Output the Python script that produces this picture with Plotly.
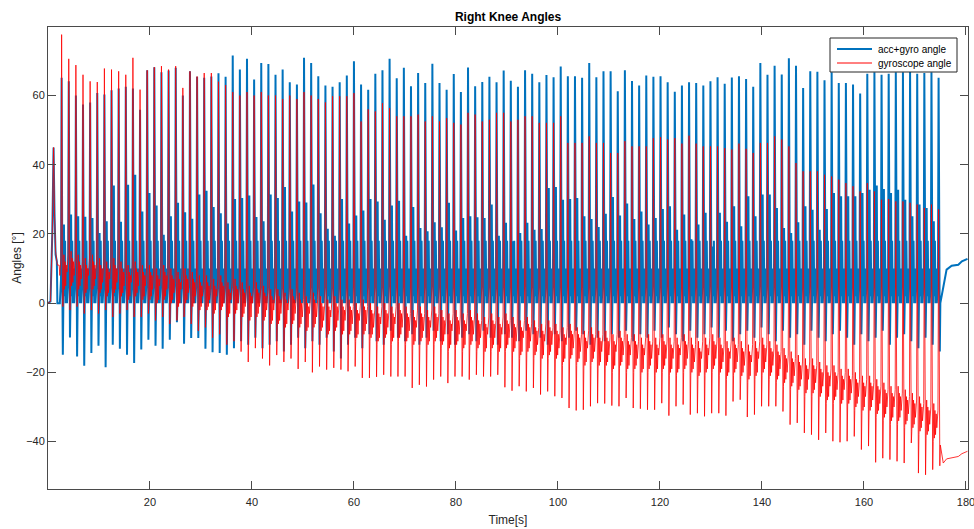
import numpy as np
import plotly.graph_objects as go

# ---------------- data ----------------
first_peak_time = 2.68      # s, time of first big stride peak
stride_period = 1.398       # s, spacing of stride peaks

# start-up segment (before first stride)
init_t = [0.0, 0.5, 0.85, 1.1, 1.3, 1.5, 1.75, 1.85, 2.2]
init_blue = [0, 0.5, 20, 45, 25, 14, 12, 0, 0]
init_red = [0, 0.5, 20, 45, 25, 15, 12, 11, 11]

# per-stride values, acc+gyro angle
blue_peak = [65.1, 64.1, 60.0, 57.4, 58.0, 60.7, 60.3, 61.5, 62.0, 62.5, 62.0, 55.9, 67.3, 68.2, 66.7, 67.2, 68.0, 60.0, 67.0, 65.4,
             65.1, 65.5, 66.4, 65.4, 71.6, 67.5, 70.6, 64.6, 69.4, 69.1, 66.0, 67.5, 63.8, 63.2, 70.9, 69.4, 65.6, 62.9,
             62.5, 63.8, 65.8, 69.9, 63.2, 61.7, 66.3, 67.3, 70.6, 65.0, 68.0, 62.7, 66.5, 63.6, 69.2, 63.6, 61.7, 66.2, 61.0, 68.1,
             62.7, 63.9, 65.4, 63.8, 67.2, 64.3, 62.5, 67.3, 66.3, 63.8, 65.9, 65.3, 68.4, 65.6, 65.6, 65.1, 69.4, 65.3, 67.0, 67.0,
             61.2, 67.3, 64.2, 62.9, 65.8,
             65.4, 65.6, 63.8, 61.1, 62.9, 63.8, 63.6, 62.9, 64.1, 65.3, 63.4, 65.2, 65.6, 64.8, 62.5, 69.4, 66.0, 68.6, 66.1, 70.8,
             68.6, 62.2, 67.0, 66.9, 64.4, 66.7, 63.6, 63.6, 63.2, 60.6, 66.3, 66.7, 66.0, 66.3, 66.7, 66.7, 67.0, 66.3, 66.5, 66.7, 65.1]
blue_sec = [22.7, 25.6, 25.1, 25.0, 24.6, 20.3, 23.7, 34.0, 23.5, 34.2, 37.1, 26.5, 31.8, 28.2, 19.8, 25.1, 29.0, 26.3, 24.4, 31.4,
            32.5, 27.8, 26.0, 23.0, 30.1, 30.4, 31.1, 24.9, 23.7, 31.4, 30.4, 33.6, 26.5, 29.4, 29.1, 34.3, 26.0, 21.5,
            19.5, 30.1, 23.0, 25.3, 26.8, 30.1, 29.4, 24.1, 28.2, 29.6, 19.5, 27.8, 21.7, 20.8, 23.4, 21.9, 29.0, 21.0, 24.6, 25.1,
            24.8, 24.6, 28.5, 19.5, 23.2, 17.9, 20.3, 23.2, 21.2, 21.4, 33.3, 33.6, 29.9, 30.1, 30.4, 25.1, 24.3, 22.0, 25.8, 30.7,
            25.3, 28.8, 24.3, 26.5, 22.7,
            24.6, 27.2, 28.0, 21.2, 25.6, 18.5, 22.7, 26.1, 16.4, 26.1, 23.5, 28.0, 22.2, 30.9, 25.1, 31.4, 31.4, 27.5, 21.7, 20.3,
            23.4, 28.0, 27.0, 21.2, 27.2, 31.8, 30.9, 30.9, 30.9, 31.8, 32.8, 34.0, 33.0, 31.8, 32.8, 29.9, 25.1, 28.5, 27.5, 23.7, 29.4]
blue_low = [-14.9, -9.9, -15.4, -18.1, -14.4, -12.3, -18.5, -12.0, -13.2, -14.9, -17.3, -13.4, -10.6, -12.3, -13.2, -10.6, -5.5,
            -11.7, -10.1, -10.1, -13.2, -14.2, -14.4, -14.9, -13.0,
            -11, -12, -10, -13, -12, -11, -14, -12, -10, -13, -11, -12, -10,
            -14, -16, -12, -10, -13, -9, -11, -12, -8, -10, -11, -9, -12, -10, -8, -11, -9, -12, -10, -9, -11, -8, -10, -12,
            -9, -10, -11, -8, -9, -10, -12, -9, -11, -10, -8, -9, -12, -10, -11, -9, -10, -8, -11, -9, -10,
            -8, -10, -7, -9, -11, -8, -10, -9, -7, -10, -8, -11, -9, -8, -10, -7, -9, -11, -8, -10, -9, -12, -8, -10, -11,
            -9, -8, -10, -12, -9, -11, -10, -8, -12, -10, -9, -11, -13, -10, -12, -14]

# per-stride values, gyroscope angle
red_peak = [77.6, 70.6, 68.8, 66.0, 64.1, 63.9, 67.8, 67.5, 67.0, 66.0, 70.9, 61.7, 67.3, 68.2, 68.5, 67.5, 68.5, 62.2, 67.0, 65.5,
            66.5, 66.5, 64.0, 63.0, 61.0, 60.0, 61.0, 60.0, 61.0, 60.0, 60.0, 59.0, 60.0, 59.0, 61.0, 60.0, 59.0, 58.0,
            59.8, 59.8, 59.8, 60.7, 52.5, 56.0, 55.4, 57.8, 56.4, 54.0, 54.0, 54.0, 54.5, 52.5, 54.0, 52.5, 53.5, 52.1, 51.6, 55.0,
            54.5, 52.5, 53.0, 55.0, 55.0, 52.5, 53.0, 54.0, 54.0, 52.1, 52.1, 52.1, 54.0, 46.3, 46.3, 46.3, 48.2, 46.3, 46.3, 43.4,
            43.4, 46.8, 45.3, 45.3, 45.3,
            47.7, 48.0, 47.3, 47.7, 46.1, 48.4, 46.1, 45.3, 45.3, 45.3, 44.8, 44.4, 46.1, 44.6, 43.4, 46.3, 46.3, 48.2, 47.3, 45.3,
            40.5, 38.1, 38.1, 38.1, 37.1, 36.6, 35.7, 34.7, 33.8, 32.3, 34.7, 32.3, 29.9, 30.1, 29.4, 29.4, 29.0, 28.5, 27.5, 28.5, 27.1]
red_low = [-1, -2, -1, -3, -2, -3, -2, -4, -3, -2, -4,
           -4, -3, -5, -4, -6, -5, -4, -6,
           -8, -7, -10, -9, -12, -11, -14,
           -17, -13, -16, -18, -15, -17, -16, -19, -17, -20,
           -18.3, -19.2, -18.7, -19.2, -19.7, -18.3, -21.6, -21.6, -21.3, -20.7, -21.2, -21.2, -21.2, -24.5, -23.6, -24.1,
           -22.1, -21.2, -23.1, -21.2, -21.2, -22.1, -20.7, -21.2, -21.2, -20.7, -24.3, -25.3, -24.0, -25.5, -24.5, -26.4,
           -25.5, -26.9, -27.4, -30.3, -31.0, -30.8, -29.8, -28.9, -29.0, -29.6, -29.8, -27.4, -30.3, -30.5,
           -30.8, -30.8, -28.9, -32.5, -29.8, -29.3, -32.2, -31.8, -32.7, -31.8, -31.8, -32.5, -28.4, -27.9, -32.9, -32.2,
           -29.8, -29.8, -29.8, -31.3, -35.1, -34.6, -37.5, -38.0, -39.5, -37.5, -39.9, -40.2, -39.9, -38.5, -42.3, -41.3,
           -46.0, -44.8, -45.2, -45.7, -46.2, -40.4, -49.1, -49.6, -48.1,
           -47.0]
red_mid = [8, 9, 8, 7, 8, 7, 6, 7, 6, 5, 6, 5, 5, 4, 5, 4, 3, 4, 3, 2,
           2, 1, 2, 0, 1, 0, -1, 0, -1, -2, -2, -3, -2, -3, -4, -3, -4, -5, -4, -5,
           -5, -6, -5, -6, -7, -6, -7, -6, -7, -8, -7, -8, -7, -8, -9, -8, -9, -8, -9, -10,
           -9, -10, -9, -10, -11, -10, -11, -12, -11, -12, -13, -12, -13, -14, -13, -14, -14, -15, -14, -15,
           -15, -16, -15, -16, -15, -16, -16, -15, -16, -17, -16, -15, -16, -17, -16, -17, -18, -17, -16, -17,
           -18, -19, -20, -21, -22, -22, -23, -24, -24, -25, -25, -26, -27, -27, -28, -29, -30, -30, -31, -32,
           -33, -34, -35, -36]

# tail after walking stops
end_t = [175.55, 176.2, 177.2, 178.5, 179.2, 180.3]
end_blue = [4.9, 9.7, 10.8, 11.1, 12.1, 12.8]
end_red = [-46.2, -45.0, -44.7, -44.3, -43.5, -42.8]

x_ticks = [20, 40, 60, 80, 100, 120, 140, 160, 180]
y_ticks = [-40, -20, 0, 20, 40, 60]
series_names = ["acc+gyro angle", "gyroscope angle"]
series_colors = ["#0072BD", "#FF0000"]

# ---------------- build the traces ----------------
n = min(len(blue_peak), len(blue_sec), len(blue_low), len(red_peak), len(red_low), len(red_mid))

# stride shape (offset in seconds from peak)
offs = [-0.35, -0.12, 0.0, 0.14, 0.24, 0.34, 0.46, 0.56, 0.68, 0.80, 0.92]

bx, by, rx, ry = list(init_t), list(init_blue), list(init_t), list(init_red)
for k in range(n):
    tp = first_peak_time + k * stride_period
    bvals = [0, 7, blue_peak[k], 7, blue_low[k], 0, blue_sec[k], 2, 18, 0, 10]
    m = red_mid[k]
    rvals = [m, m + 5, red_peak[k], m + 3, red_low[k], m - 5, m + 6, m - 4, m + 4, m - 3, m + 3]
    last = (k == n - 1)
    for o, bv, rv in zip(offs, bvals, rvals):
        if last and o > 0.34:
            break
        bx.append(tp + o); by.append(bv)
        rx.append(tp + o); ry.append(rv)
bx += end_t; by += end_blue
rx += end_t; ry += end_red

fig = go.Figure()
fig.add_trace(go.Scatter(x=bx, y=by, mode="lines", name=series_names[0],
                         line=dict(color=series_colors[0], width=2), showlegend=False))
fig.add_trace(go.Scatter(x=rx, y=ry, mode="lines", name=series_names[1],
                         line=dict(color=series_colors[1], width=0.8), showlegend=False))

FONT = "Liberation Sans, Arial"
axis_common = dict(showline=True, linecolor="#4a4a4a", linewidth=1, mirror="ticks",
                   ticks="inside", ticklen=8, tickcolor="#4a4a4a", showgrid=False, zeroline=False,
                   automargin=False,
                   tickfont=dict(family=FONT, size=11, color="#262626"))

# plot area geometry (px) for the hand-drawn MATLAB-style legend
L, R, T, B, W, H = 48, 6, 27, 40, 974, 529
pw, ph = W - L - R, H - T - B
def px_x(p): return (p - L) / pw
def px_y(p): return (H - B - p) / ph

shapes = [dict(type="rect", xref="paper", yref="paper",
               x0=px_x(830), x1=px_x(957), y0=px_y(72), y1=px_y(38),
               line=dict(color="#262626", width=1), fillcolor="white", layer="above")]
annotations = []
for i, (nm, col, lw) in enumerate(zip(series_names, series_colors, [2, 1])):
    yy = px_y(49 + 14 * i)
    shapes.append(dict(type="line", xref="paper", yref="paper",
                       x0=px_x(837), x1=px_x(872), y0=yy, y1=yy,
                       line=dict(color=col, width=lw), layer="above"))
    annotations.append(dict(text=nm, xref="paper", yref="paper", x=px_x(876), y=yy,
                            xanchor="left", yanchor="middle", showarrow=False,
                            font=dict(family=FONT, size=10, color="#000000")))

fig.update_layout(
    width=W, height=H,
    margin=dict(l=L, r=R, t=T, b=B, autoexpand=False),
    paper_bgcolor="white", plot_bgcolor="white",
    title=dict(text="<b>Right Knee Angles</b>", x=0.5216, xanchor="center", y=0.968, yanchor="middle",
               font=dict(family=FONT, size=12, color="#000000")),
    xaxis=dict(range=[0.01, 180.4], tickvals=x_ticks, ticklabeloverflow="allow",
               ticklabelstandoff=3,
               title=dict(text="Time[s]", standoff=8,
                          font=dict(family=FONT, size=12, color="#262626")),
               **axis_common),
    yaxis=dict(range=[-53.7, 79.8], tickvals=y_ticks,
               title=dict(text="Angles [°]", standoff=1,
                          font=dict(family=FONT, size=12, color="#262626")),
               **axis_common),
    shapes=shapes, annotations=annotations,
    showlegend=False,
)

fig.write_html("out.html")
